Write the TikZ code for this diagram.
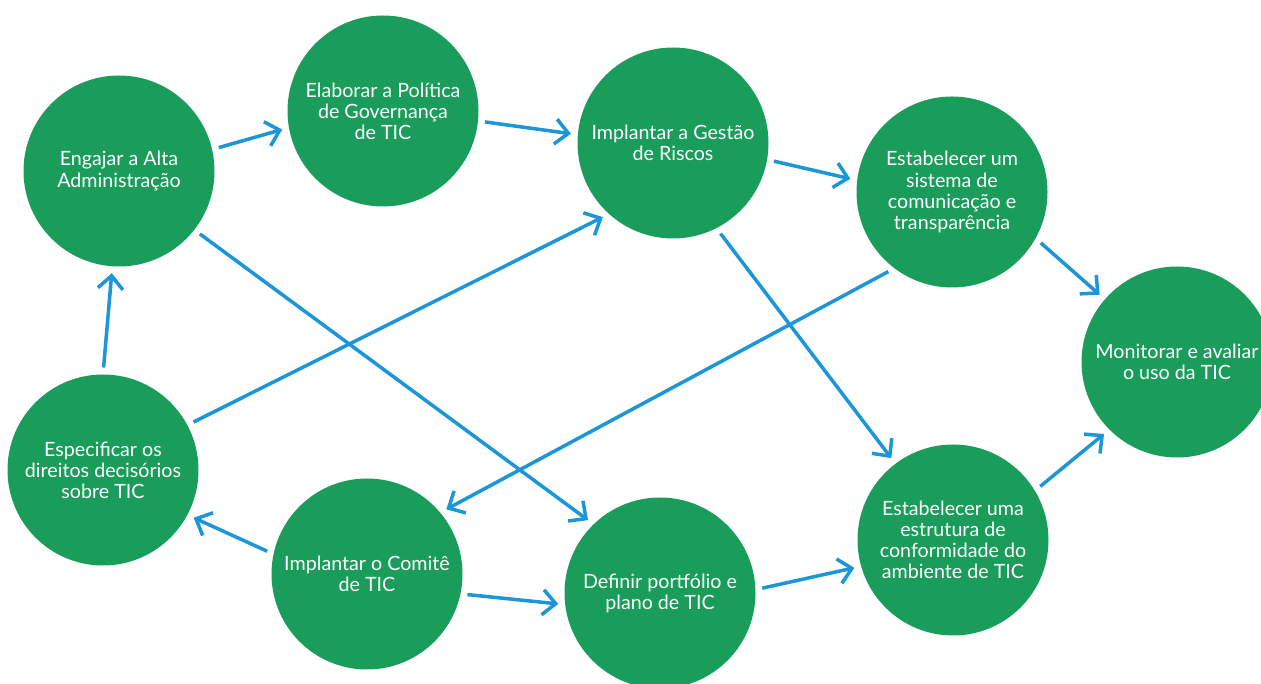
\documentclass[tikz,border=0pt]{standalone}
\usepackage{fontspec}
\setmainfont{Lato}
\usepackage{tikz}
\usetikzlibrary{arrows.meta}

\definecolor{govgreen}{RGB}{26,156,90}
\definecolor{govblue}{RGB}{27,150,216}

\begin{document}
\begin{tikzpicture}[
		stage/.style={circle, fill=govgreen, text=white, minimum size=3.82cm, inner sep=0pt, outer sep=0pt, align=center, font=\fontsize{11.2}{12}\selectfont},
		link/.style={draw=govblue, line width=2pt, -{Straight Barb[length=2.6mm, width=5mm]}, shorten >=1.4mm, shorten <=1.4mm}
	]
		\useasboundingbox (0, 0) rectangle (25.22, 13.68);
		\node [stage] (EA) at (2.38, 10.26) {Engajar a Alta\\Administração};
		\node [stage] (EP) at (7.66, 11.46) {Elaborar a Política\\de Governança\\de TIC};
		\node [stage] (GR) at (13.46, 10.82) {Implantar a Gestão\\de Riscos};
		\node [stage] (SC) at (19.04, 9.84) {Estabelecer um\\sistema de\\comunicação e\\transparência};
		\node [stage] (MA) at (23.54, 6.44) {Monitorar e avaliar\\o uso da TIC};
		\node [stage] (EE) at (19.06, 2.88) {Estabelecer uma\\estrutura de\\conformidade do\\ambiente de TIC};
		\node [stage] (DP) at (13.20, 1.82) {Definir portfólio e\\plano de TIC};
		\node [stage] (CT) at (7.34, 2.20) {Implantar o Comitê\\de TIC};
		\node [stage] (ED) at (2.06, 4.28) {Especificar os\\direitos decisórios\\sobre TIC};
		
		% outer ring
		\draw [link] (EA.13) -- (EP.190);
		\draw [link] (EP.354) -- (GR.175);
		\draw [link] (GR.350) -- (SC.173);
		\draw [link] (SC.331) -- (MA.139);
		\draw [link] (EE.31) -- (MA.225);
		\draw [link] (DP.2) -- (EE.196);
		\draw [link] (CT.348) -- (DP.187);
		\draw [link] (CT.168) -- (ED.332);
		\draw [link] (ED.90) -- (EA.266);
		
		% crossing links
		\draw [link] (ED.28) -- (GR.228);
		\draw [link] (EA.322) -- (DP.134);
		\draw [link] (GR.297) -- (EE.127);
		\draw [link] (SC.233) -- (CT.40);
\end{tikzpicture}
\end{document}
